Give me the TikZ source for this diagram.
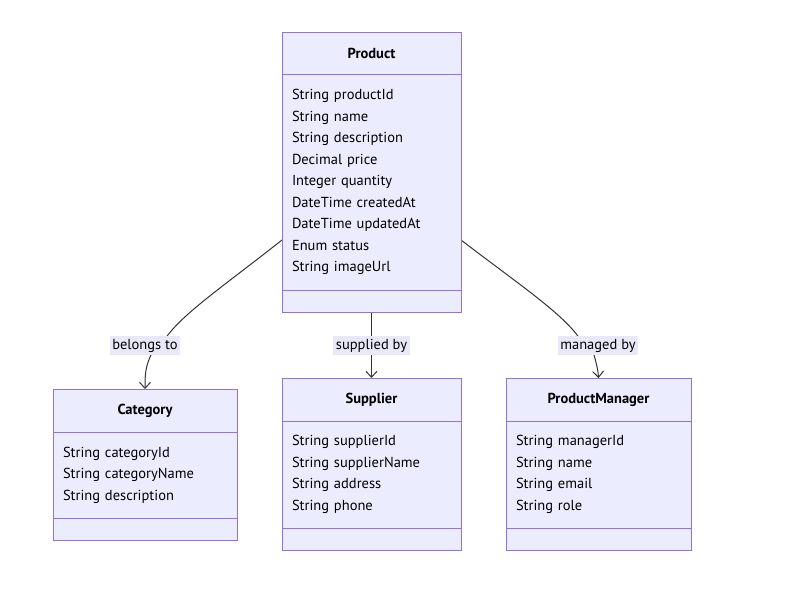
\documentclass[tikz,border=0pt]{standalone}
\usepackage{fontspec}
\setmainfont{PT Sans}
\usepackage{tikz}
\usetikzlibrary{positioning,arrows.meta,backgrounds}
\definecolor{cfill}{HTML}{ECECFF}
\definecolor{cline}{HTML}{9370DB}
\definecolor{eline}{HTML}{333333}
\definecolor{lblbg}{HTML}{E8E8F8}

\begin{document}
\begin{tikzpicture}[x=1pt, y=-1pt, font=\fontsize{14.5}{21.5}\selectfont,
  hdr/.style={draw=cline, fill=cfill, line width=1pt, outer sep=0pt, font=\fontsize{14.5}{21.5}\selectfont\bfseries, align=center},
  attrs/.style={draw=cline, fill=cfill, line width=1pt, outer sep=0pt, align=left, inner xsep=10pt, inner ysep=0pt},
  foot/.style={draw=cline, fill=cfill, line width=1pt, outer sep=0pt, minimum height=22pt},
  lbl/.style={fill=lblbg, inner sep=2.5pt},
  arr/.style={-{Straight Barb[length=6pt,width=11pt]}, eline, line width=1pt}]
\useasboundingbox (0,0) rectangle (799,598);
% Product
\node[hdr, minimum width=179pt, minimum height=42pt] (prod) at (371.5,53) {Product};
\node[attrs, text width=159pt, minimum height=216pt, below=0pt of prod] (pbody) {String productId\\ String name\\ String description\\ Decimal price\\ Integer quantity\\ DateTime createdAt\\ DateTime updatedAt\\ Enum status\\ String imageUrl};
\node[foot, minimum width=179pt, below=0pt of pbody] (pfoot) {};
% Category
\node[hdr, minimum width=184pt, minimum height=43pt] (cat) at (145,410.5) {Category};
\node[attrs, text width=164pt, minimum height=86pt, below=0pt of cat] (cbody) {String categoryId\\ String categoryName\\ String description};
\node[foot, minimum width=184pt, below=0pt of cbody] (cfoot) {};
% Supplier
\node[hdr, minimum width=179pt, minimum height=43pt] (sup) at (371.5,399.5) {Supplier};
\node[attrs, text width=159pt, minimum height=107pt, below=0pt of sup] (sbody) {String supplierId\\ String supplierName\\ String address\\ String phone};
\node[foot, minimum width=179pt, below=0pt of sbody] (sfoot) {};
% ProductManager
\node[hdr, minimum width=185pt, minimum height=43pt] (pm) at (598.5,399.5) {ProductManager};
\node[attrs, text width=165pt, minimum height=107pt, below=0pt of pm] (mbody) {String managerId\\ String name\\ String email\\ String role};
\node[foot, minimum width=185pt, below=0pt of mbody] (mfoot) {};
% edge labels
\node[lbl] (l1) at (145,345.5) {belongs to};
\node[lbl] (l2) at (371.5,345.5) {supplied by};
\node[lbl] (l3) at (598,345.5) {managed by};
% relations
\begin{scope}[on background layer]
\draw[arr] ([yshift=-58pt]pbody.west) .. controls (225,285) and (185,312) .. ([xshift=22pt]l1.north) -- ([xshift=6pt]l1.south) .. controls (146,366) and (145,372) .. (cat.north);
\draw[arr] (pfoot.south) -- (l2) -- (sup.north);
\draw[arr] ([yshift=-58pt]pbody.east) .. controls (520,285) and (560,312) .. ([xshift=-20pt]l3.north) -- ([xshift=-4pt]l3.south) .. controls (597,366) and (598,370) .. (pm.north);
\end{scope}
\end{tikzpicture}
\end{document}
